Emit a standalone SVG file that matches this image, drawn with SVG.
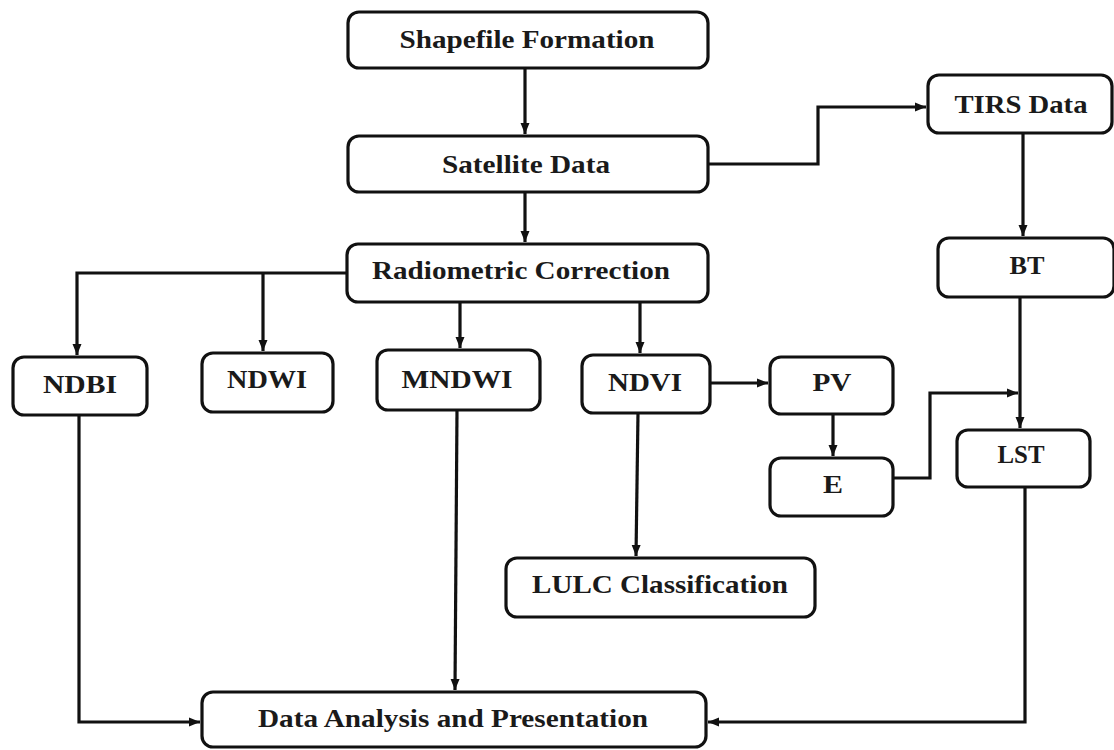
<svg xmlns="http://www.w3.org/2000/svg" width="1114" height="750" viewBox="0 0 1114 750">
<style>
.box{fill:#fff;stroke:#111;stroke-width:3.2}
.lbl{font-family:"Liberation Serif","Times New Roman",serif;font-weight:bold;font-size:26px;fill:#1a1a1a;text-anchor:middle}
.con{fill:none;stroke:#111;stroke-width:3.2;stroke-linejoin:miter}
</style>
<defs>
<marker id="ah" markerUnits="userSpaceOnUse" markerWidth="12" markerHeight="10" refX="11" refY="5" orient="auto">
<path d="M0,0.5 L11,5 L0,9.5 Z" fill="#111"/>
</marker>
</defs>
<rect width="1114" height="750" fill="#fff"/>
<g id="connectors">
<path class="con" d="M525,68 V134" marker-end="url(#ah)"/>
<path class="con" d="M525,192 V242" marker-end="url(#ah)"/>
<path class="con" d="M347,273 H77 V355" marker-end="url(#ah)"/>
<path class="con" d="M263,273 V351" marker-end="url(#ah)"/>
<path class="con" d="M460,302 V348" marker-end="url(#ah)"/>
<path class="con" d="M640,302 V353" marker-end="url(#ah)"/>
<path class="con" d="M708,164 H818 V107 H926" marker-end="url(#ah)"/>
<path class="con" d="M1023,133 V236" marker-end="url(#ah)"/>
<path class="con" d="M1020,297 V428" marker-end="url(#ah)"/>
<path class="con" d="M710,383 H768" marker-end="url(#ah)"/>
<path class="con" d="M833,414 V456" marker-end="url(#ah)"/>
<path class="con" d="M893,478 H930 V393 H1018" marker-end="url(#ah)"/>
<path class="con" d="M79,415 V722 H200" marker-end="url(#ah)"/>
<path class="con" d="M457,410 L455,690" marker-end="url(#ah)"/>
<path class="con" d="M638,413 L636,556" marker-end="url(#ah)"/>
<path class="con" d="M1025,487 V722 H708" marker-end="url(#ah)"/>
</g>
<g id="shapefile"><rect class="box" x="348" y="12" width="360" height="56" rx="11"/><text class="lbl" x="527" y="48" textLength="255" lengthAdjust="spacingAndGlyphs">Shapefile Formation</text></g>
<g id="satellite"><rect class="box" x="348" y="136" width="360" height="56" rx="11"/><text class="lbl" x="526" y="173" textLength="168" lengthAdjust="spacingAndGlyphs">Satellite Data</text></g>
<g id="radiometric"><rect class="box" x="347" y="244" width="361" height="58" rx="11"/><text class="lbl" x="521" y="279" textLength="298" lengthAdjust="spacingAndGlyphs">Radiometric Correction</text></g>
<g id="tirs"><rect class="box" x="928" y="75" width="184" height="58" rx="11"/><text class="lbl" x="1021" y="113" textLength="133" lengthAdjust="spacingAndGlyphs">TIRS Data</text></g>
<g id="bt"><rect class="box" x="938" y="238" width="176" height="59" rx="11"/><text class="lbl" x="1027" y="274" textLength="35" lengthAdjust="spacingAndGlyphs">BT</text></g>
<g id="ndbi"><rect class="box" x="13" y="357" width="134" height="58" rx="11"/><text class="lbl" x="80" y="393" textLength="74" lengthAdjust="spacingAndGlyphs">NDBI</text></g>
<g id="ndwi"><rect class="box" x="202" y="353" width="131" height="59" rx="11"/><text class="lbl" x="267" y="388" textLength="80" lengthAdjust="spacingAndGlyphs">NDWI</text></g>
<g id="mndwi"><rect class="box" x="377" y="350" width="163" height="60" rx="11"/><text class="lbl" x="457" y="388" textLength="111" lengthAdjust="spacingAndGlyphs">MNDWI</text></g>
<g id="ndvi"><rect class="box" x="582" y="355" width="128" height="58" rx="11"/><text class="lbl" x="645" y="391" textLength="74" lengthAdjust="spacingAndGlyphs">NDVI</text></g>
<g id="pv"><rect class="box" x="770" y="357" width="123" height="57" rx="11"/><text class="lbl" x="832" y="391" textLength="39" lengthAdjust="spacingAndGlyphs">PV</text></g>
<g id="e"><rect class="box" x="770" y="458" width="123" height="58" rx="11"/><text class="lbl" x="833" y="493" textLength="20" lengthAdjust="spacingAndGlyphs">E</text></g>
<g id="lst"><rect class="box" x="957" y="430" width="133" height="57" rx="11"/><text class="lbl" x="1021" y="463" textLength="47" lengthAdjust="spacingAndGlyphs">LST</text></g>
<g id="lulc"><rect class="box" x="506" y="558" width="309" height="59" rx="11"/><text class="lbl" x="660" y="593" textLength="256" lengthAdjust="spacingAndGlyphs">LULC Classification</text></g>
<g id="data-analysis"><rect class="box" x="202" y="692" width="504" height="55" rx="11"/><text class="lbl" x="453" y="727" textLength="390" lengthAdjust="spacingAndGlyphs">Data Analysis and Presentation</text></g>
</svg>
